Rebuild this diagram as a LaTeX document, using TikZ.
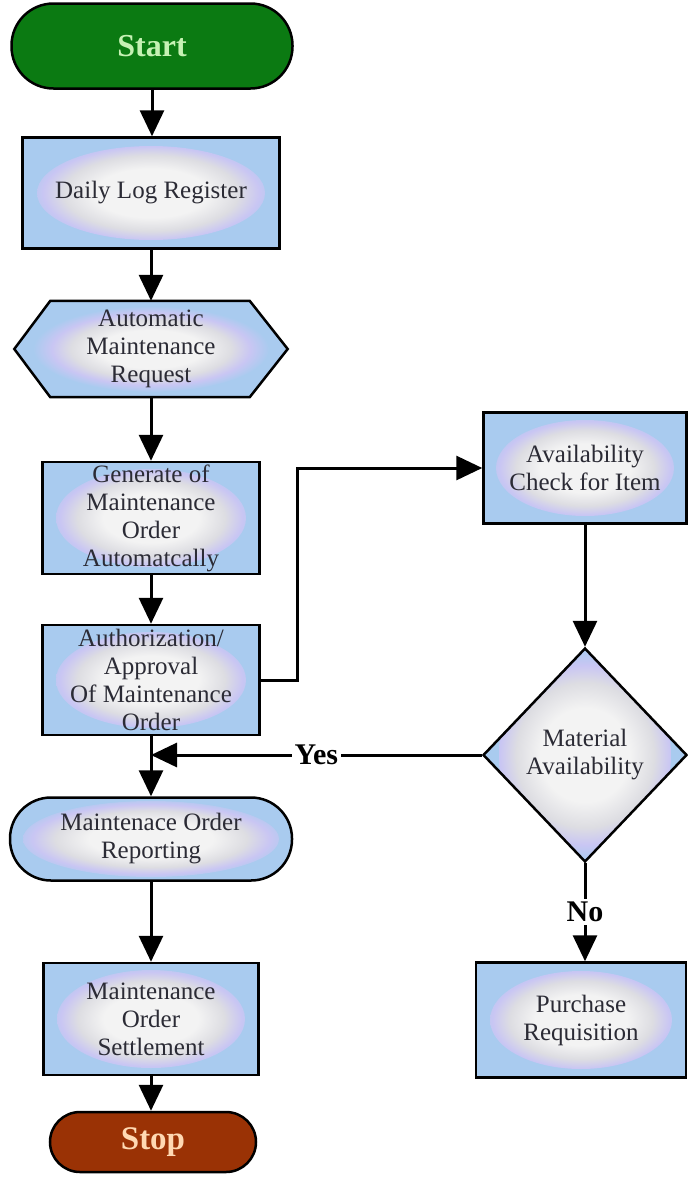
\documentclass[tikz,border=0pt]{standalone}
\usepackage{fontspec}
\setmainfont{Liberation Serif}
\newfontfamily\boxfont{Liberation Serif}
\usetikzlibrary{arrows.meta,shapes.geometric,backgrounds,calc}
\definecolor{boxblue}{HTML}{A9CBEF}
\definecolor{glowC}{HTML}{F3F3F3}
\definecolor{glowM}{HTML}{DDDDE2}
\definecolor{glowL}{HTML}{C9C6F3}
\definecolor{txtc}{HTML}{2B2B35}
\definecolor{startgreen}{HTML}{0B7A12}
\definecolor{starttxt}{HTML}{C6F2B4}
\definecolor{stopbrown}{HTML}{9A3205}
\definecolor{stoptxt}{HTML}{FFD9B3}
\pgfdeclareradialshading{glowshade}{\pgfpoint{0bp}{0bp}}{color(0bp)=(glowC); color(11bp)=(glowC); color(17bp)=(glowM); color(21bp)=(glowL); color(25bp)=(boxblue)}
\tikzset{
  lbl/.style={font=\boxfont\fontsize{25}{28}\selectfont, text=txtc, align=center, inner sep=0pt},
  glow/.style 2 args={path picture={\shade[shading=glowshade] (path picture bounding box.center) ellipse [x radius=#1, y radius=#2];}},
  procbox/.style 2 args={lbl, draw=black, line width=2.5pt, fill=boxblue, rectangle, minimum width=#1, minimum height=#2},
  termbox/.style={draw=black, line width=2.5pt, rectangle, inner sep=0pt, align=center},
  arr/.style={-{Triangle[width=24pt,length=26pt]}, line width=3pt},
  answer/.style={font=\boxfont\fontsize{30}{30}\selectfont\bfseries, fill=white, inner sep=3pt, text=black}
}
\begin{document}
\begin{tikzpicture}[x=1pt,y=1pt]
\useasboundingbox (0,0) rectangle (688,-1179);
% nodes
\node[termbox, fill=startgreen, minimum width=281pt, minimum height=85pt, rounded corners=42pt,
      font=\boxfont\fontsize{32}{32}\selectfont\bfseries, text=starttxt] (start) at (152,-46) {Start};
\node[procbox={257pt}{111pt}, glow={114pt}{47pt}] (daily) at (151,-193) {Daily Log Register};
\node[lbl, minimum width=273pt, minimum height=96pt] (auto) at (151,-349) {Automatic\\Maintenance\\Request};
\node[procbox={217pt}{112pt}, glow={95pt}{49pt}] (gen) at (151,-518) {Generate of\\Maintenance\\Order\\Automatcally};
\node[procbox={217pt}{110pt}, glow={95pt}{48pt}] (auth) at (151,-680) {Authorization/\\Approval\\Of Maintenance\\Order};
\node[procbox={203pt}{111pt}, glow={89pt}{48pt}] (avail) at (585,-468) {Availability\\Check for Item};
\node[lbl, diamond, draw=black, line width=2.5pt, fill=boxblue, minimum width=204pt, minimum height=214pt,
      glow={86pt}{104pt}] (mat) at (585,-755) {Material\\Availability};
\node[lbl, termbox, fill=boxblue, minimum width=282pt, minimum height=83pt, rounded corners=41pt,
      glow={128pt}{38pt}] (report) at (151,-839) {Maintenace Order\\Reporting};
\node[procbox={215pt}{112pt}, glow={94pt}{49pt}] (settle) at (151,-1019) {Maintenance\\Order\\Settlement};
\node[procbox={210pt}{115pt}, glow={91pt}{49pt}] (purch) at (581,-1020) {Purchase\\Requisition};
\node[termbox, fill=stopbrown, minimum width=206pt, minimum height=60pt, rounded corners=30pt,
      font=\boxfont\fontsize{33}{33}\selectfont\bfseries, text=stoptxt] (stop) at (153,-1142) {Stop};
% hexagon drawn behind its node
\begin{scope}[on background layer]
  \path[fill=boxblue] (auto.west) -- ($(auto.north west)+(36,0)$) -- ($(auto.north east)+(-38,0)$) -- (auto.east)
        -- ($(auto.south east)+(-38,0)$) -- ($(auto.south west)+(36,0)$) -- cycle;
  \shade[shading=glowshade] (auto.center) ellipse [x radius=118pt, y radius=43pt];
  \draw[line width=2.5pt, line join=miter] (auto.west) -- ($(auto.north west)+(36,0)$) -- ($(auto.north east)+(-38,0)$) -- (auto.east)
        -- ($(auto.south east)+(-38,0)$) -- ($(auto.south west)+(36,0)$) -- cycle;
\end{scope}
\coordinate (j) at (auth.south |- mat.west);
% connectors
\draw[arr] (start.south) -- (start.south |- daily.north);
\draw[arr] (daily.south) -- (auto.north);
\draw[arr] (auto.south) -- (gen.north);
\draw[arr] (gen.south) -- (auth.north);
\draw[arr] (auth.south) -- (report.north);
\draw[arr] (auth.east) -- ++(37,0) |- (avail.west);
\draw[arr] (avail.south) -- (mat.north);
\draw[arr] (mat.west) -- node[answer] {Yes} (j);
\draw[arr] (mat.south) -- node[answer, pos=0.5] {No} (mat.south |- purch.north);
\draw[arr] (report.south) -- (settle.north);
\draw[arr] (settle.south) -- (settle.south |- stop.north);
\end{tikzpicture}
\end{document}
